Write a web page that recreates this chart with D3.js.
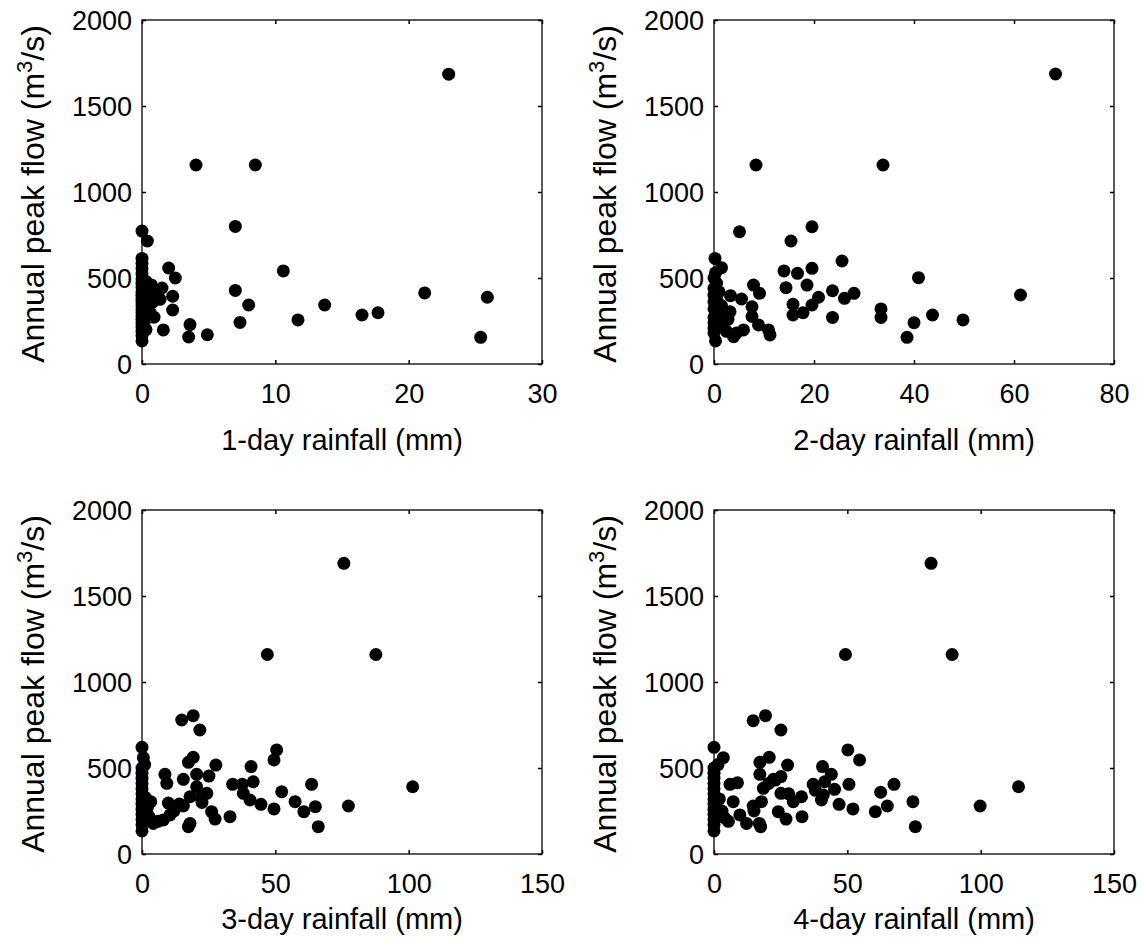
<!DOCTYPE html>
<html>
<head>
<meta charset="utf-8">
<script src="https://cdn.jsdelivr.net/npm/d3@7"></script>
<style>
  body { margin: 0; background: #fff; }
  svg text { font-family: "Liberation Sans", Arial, sans-serif; fill: #000; }
</style>
</head>
<body>
<div id="chart"></div>
<script>
// peak flow vs rainfall, one [rain, flow] pair per year
var rain1 = [[23, 1685], [4.05, 1157], [8.5, 1157], [7, 800], [0, 773], [0.4, 715], [2.0, 558], [2.5, 500],
  [10.6, 541], [7, 428], [21.2, 413], [25.9, 388], [2.3, 394], [8.0, 343], [13.7, 343], [2.3, 314],
  [17.7, 298], [16.5, 285], [11.7, 256], [7.35, 242], [1.6, 198], [3.6, 229], [3.5, 157], [4.9, 170],
  [25.4, 155], [0.7, 460], [1.5, 442], [1.35, 376], [0.9, 272], [0, 614], [0, 585], [0, 555], [0, 525],
  [0, 495], [0, 470], [0, 445], [0, 420], [0, 400], [0, 380], [0, 360], [0, 340], [0, 320], [0, 300],
  [0, 280], [0, 260], [0, 240], [0, 215], [0, 190], [0, 165], [0, 134], [0.3, 480], [0.5, 420],
  [0.4, 350], [0.6, 300], [0.2, 250], [1.0, 400], [0.8, 360], [0.3, 200]];

var rain2 = [[68.3, 1686], [8.4, 1157], [33.8, 1157], [19.6, 798], [5.1, 769], [15.4, 715], [25.6, 599],
  [14.0, 541], [16.7, 527], [19.6, 556], [40.9, 502], [7.9, 459], [9.1, 411], [14.4, 444], [18.6, 459],
  [23.7, 426], [28, 411], [26.1, 382], [61.3, 401], [20.9, 388], [19.6, 343], [15.8, 347], [15.8, 285],
  [17.8, 298], [23.7, 271], [33.4, 320], [33.4, 271], [43.7, 285], [49.8, 256], [40, 240], [38.6, 155],
  [0.2, 614], [1.5, 560], [0.3, 530], [0, 500], [0.5, 470], [0, 440], [1, 420], [0, 400], [0.5, 380],
  [3.3, 397], [5.5, 378], [7.6, 333], [7.6, 276], [8.9, 227], [10.9, 198], [11.2, 169], [5.9, 198],
  [3.9, 159], [3.2, 304], [2.8, 260], [1.5, 340], [0, 360], [0, 320], [0.8, 290], [0, 270], [0, 240],
  [1.2, 225], [0, 210], [0, 180], [0.3, 134], [2.5, 190], [4.5, 180]];

var rain3 = [[75.7, 1690], [47, 1160], [87.7, 1160], [14.9, 779], [19.2, 804], [21.7, 721], [0, 620],
  [50.5, 605], [49.5, 547], [0.5, 560], [19.2, 562], [17.4, 533], [27.7, 517], [40.9, 508], [8.6, 463],
  [20.5, 463], [25.1, 453], [15.5, 434], [9.3, 411], [41.7, 420], [34, 405], [37.6, 405], [63.6, 405],
  [101.5, 391], [20.5, 391], [52.4, 362], [24.3, 353], [38, 353], [40.5, 314], [18, 333], [57.4, 304],
  [44.6, 289], [77.4, 279], [65, 275], [49.5, 262], [60.7, 246], [15.5, 279], [26.1, 246], [27.4, 203],
  [33, 217], [9.9, 296], [18, 178], [17.4, 159], [66.1, 159], [0, 134], [4.2, 178], [8, 198],
  [10.5, 227], [12, 250], [3.3, 304], [0, 500], [0, 470], [0, 440], [0, 410], [0, 380], [0, 350],
  [0, 320], [0, 290], [0, 260], [0, 230], [0, 200], [0, 170], [1, 520], [1.2, 330], [2, 270], [2.5, 220],
  [6, 190], [14, 290], [22, 330], [22.5, 300]];

var rain4 = [[81.4, 1690], [49.3, 1160], [89.3, 1160], [14.7, 775], [19.3, 804], [25.1, 721], [0, 620],
  [50.2, 605], [54.6, 547], [3.5, 560], [20.7, 562], [17.2, 533], [27.6, 517], [40.7, 508], [44, 463],
  [17.2, 463], [25.1, 450], [22.3, 434], [8.8, 414], [6, 405], [41.5, 420], [37.2, 405], [50.6, 405],
  [67.5, 405], [114.2, 391], [45.2, 376], [18.5, 382], [62.5, 359], [25.1, 353], [41, 343], [32.8, 333],
  [40.3, 314], [7.2, 304], [17.8, 304], [29.7, 304], [74.6, 304], [46.9, 289], [99.8, 279], [65, 279],
  [52.1, 262], [60.5, 246], [14.7, 279], [24.1, 246], [27, 203], [33, 217], [17, 178], [17.5, 159],
  [75.5, 159], [0, 134], [5.4, 190], [12.2, 178], [9.7, 227], [0, 500], [0, 470], [0, 440], [0, 410],
  [0, 380], [0, 350], [0, 320], [0, 290], [0, 260], [0, 230], [0, 200], [0, 170], [1.5, 520], [2, 320],
  [3, 250], [4, 210], [15, 250], [20.5, 410], [23, 430], [28, 350], [38, 370]];

var xTicks1 = [0, 10, 20, 30],
    xTicks2 = [0, 20, 40, 60, 80],
    xTicks34 = [0, 50, 100, 150],
    yTicks = [0, 500, 1000, 1500, 2000];

var panels = [
  {data: rain1, xmax: 30, ticks: xTicks1, label: "1-day rainfall (mm)", left: 142, top: 20, labelDy: 86},
  {data: rain2, xmax: 80, ticks: xTicks2, label: "2-day rainfall (mm)", left: 714, top: 20, labelDy: 86},
  {data: rain3, xmax: 150, ticks: xTicks34, label: "3-day rainfall (mm)", left: 142, top: 510, labelDy: 75},
  {data: rain4, xmax: 150, ticks: xTicks34, label: "4-day rainfall (mm)", left: 714, top: 510, labelDy: 75}
];

var width = 400, height = 344;

var svg = d3.select("#chart").append("svg")
    .attr("width", 1144)
    .attr("height", 943);

panels.forEach(function(p) {
  var x = d3.scaleLinear().domain([0, p.xmax]).range([0, width]),
      y = d3.scaleLinear().domain([0, 2000]).range([height, 0]);

  var g = svg.append("g")
      .attr("transform", "translate(" + p.left + "," + p.top + ")");

  // ticks on all sides, pointing in (matlab style box)
  var tl = 4;
  var xAx = g.append("g").attr("transform", "translate(0," + height + ")")
      .call(d3.axisBottom(x).tickValues(p.ticks).tickFormat(d3.format("d"))
        .tickSizeInner(-tl).tickSizeOuter(0).tickPadding(20));
  var yAx = g.append("g")
      .call(d3.axisLeft(y).tickValues(yTicks).tickFormat(d3.format("d"))
        .tickSizeInner(-tl).tickSizeOuter(0).tickPadding(10));
  g.append("g").call(d3.axisTop(x).tickValues(p.ticks).tickSizeInner(-tl).tickSizeOuter(0).tickFormat(""));
  g.append("g").attr("transform", "translate(" + width + ",0)")
      .call(d3.axisRight(y).tickValues(yTicks).tickSizeInner(-tl).tickSizeOuter(0).tickFormat(""));

  g.selectAll(".domain").remove();
  g.selectAll(".tick line").attr("stroke", "#000").attr("stroke-width", 1.5);
  xAx.selectAll("text").attr("font-size", 27).attr("dy", "0.71em");
  yAx.selectAll("text").attr("font-size", 27).attr("dy", "0.35em");

  g.append("rect")
      .attr("width", width)
      .attr("height", height)
      .attr("fill", "none")
      .attr("stroke", "#000")
      .attr("stroke-width", 1.3);

  g.selectAll(".dot")
    .data(p.data)
    .enter().append("circle")
      .attr("class", "dot")
      .attr("cx", function(d) { return x(d[0]); })
      .attr("cy", function(d) { return y(d[1]); })
      .attr("r", 6.5)
      .attr("fill", "#000");

  g.append("text")
      .attr("x", width / 2)
      .attr("y", height + p.labelDy)
      .attr("text-anchor", "middle")
      .attr("font-size", 29)
      .text(p.label);

  var yl = g.append("text")
      .attr("transform", "translate(-98," + (height / 2 + 2) + ") rotate(-90)")
      .attr("text-anchor", "middle")
      .attr("font-size", 32);
  yl.append("tspan").text("Annual peak flow (m");
  yl.append("tspan").attr("font-size", 22).attr("dy", -12).text("3");
  yl.append("tspan").attr("dy", 12).text("/s)");
});
</script>
</body>
</html>
